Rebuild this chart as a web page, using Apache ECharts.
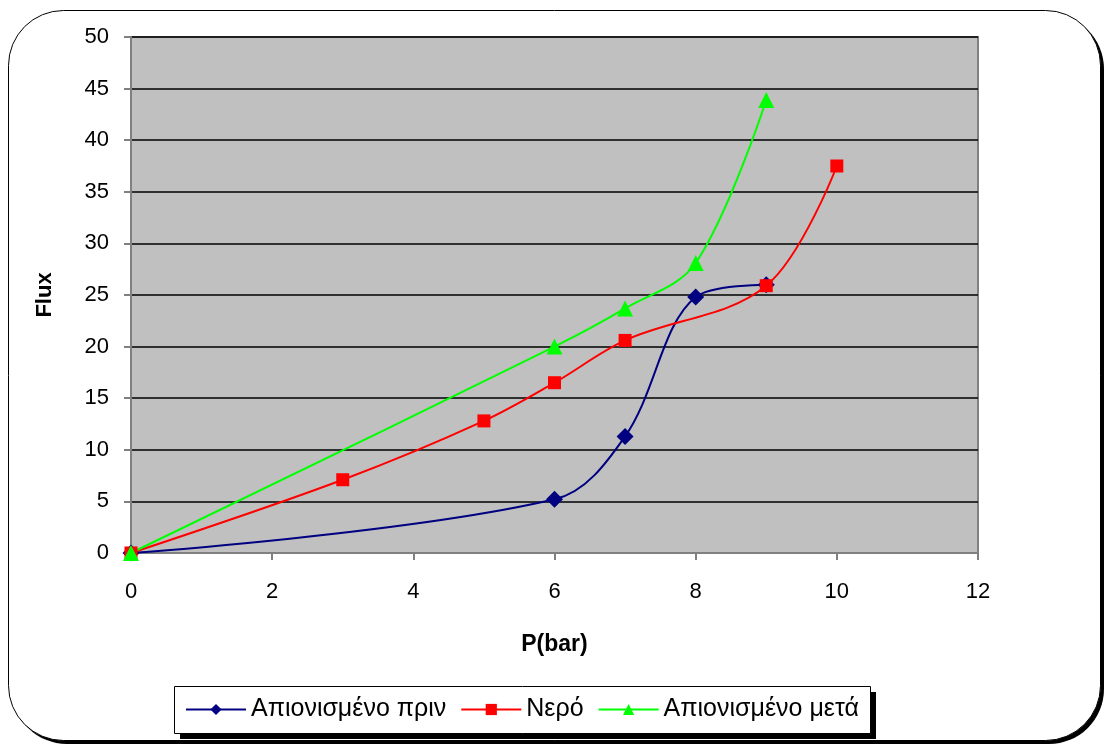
<!DOCTYPE html>
<html>
<head>
<meta charset="utf-8">
<script src="https://cdn.jsdelivr.net/npm/echarts@6/dist/echarts.min.js"></script>
<style>
html,body{margin:0;padding:0;background:#fff;}
#content{width:1106px;height:745px;}
</style>
</head>
<body>
<div id="content"></div>
<script>
// data
var pressure1 = [0, 6, 7, 8, 9];
var fluxBefore = [0, 5.2, 11.3, 24.8, 26.0];
var pressure2 = [0, 3, 5, 6, 7, 9, 10];
var fluxWater = [0, 7.1, 12.8, 16.5, 20.6, 25.9, 37.5];
var pressure3 = [0, 6, 7, 8, 9];
var fluxAfter = [0, 20.0, 23.7, 28.1, 43.9];
var seriesNames = ['Απιονισμένο πριν', 'Νερό', 'Απιονισμένο μετά'];

function pairs(xs, ys) {
    return xs.map(function (x, i) { return [x, ys[i]]; });
}

var myChart = echarts.init(document.getElementById('content'));

var option = {
    animation: false,
    textStyle: { fontFamily: 'Arial, "Liberation Sans", sans-serif' },
    graphic: [
        // outer frame: black shadow then white rounded box
        {
            type: 'rect', z: -10,
            shape: { x: 12, y: 14, width: 1092, height: 730, r: 55 },
            style: { fill: '#000' }
        },
        {
            type: 'rect', z: -9,
            shape: { x: 8.5, y: 10.5, width: 1092, height: 730, r: 55 },
            style: { fill: '#fff', stroke: '#000', lineWidth: 1 }
        },
        // legend box
        {
            type: 'rect', z: -8,
            shape: { x: 180, y: 692, width: 696, height: 47 },
            style: { fill: '#000' }
        },
        {
            type: 'rect', z: -7,
            shape: { x: 174.5, y: 686.5, width: 696, height: 47 },
            style: { fill: '#fff', stroke: '#000', lineWidth: 1 }
        }
    ],
    grid: {
        left: 131,
        right: 128,
        top: 37,
        bottom: 192,
        show: true,
        backgroundColor: '#c0c0c0',
        borderColor: '#808080',
        borderWidth: 2
    },
    legend: {
        top: 697,
        left: 185,
        data: seriesNames,
        padding: 0,
        itemGap: 14,
        itemWidth: 60,
        itemHeight: 14,
        textStyle: { fontSize: 25, color: '#000' }
    },
    xAxis: {
        type: 'value',
        min: 0,
        max: 12,
        interval: 2,
        name: 'P(bar)',
        nameLocation: 'middle',
        nameGap: 80,
        nameTextStyle: { fontSize: 23, fontWeight: 'bold', color: '#000' },
        axisLine: { show: true, lineStyle: { color: '#808080', width: 2 } },
        axisTick: { show: true, length: 7, lineStyle: { color: '#808080', width: 2 } },
        axisLabel: { fontSize: 22, color: '#000', margin: 28 },
        splitLine: { show: false }
    },
    yAxis: {
        type: 'value',
        min: 0,
        max: 50,
        interval: 5,
        name: 'Flux',
        nameLocation: 'middle',
        nameGap: 75,
        nameRotate: 90,
        nameTextStyle: { fontSize: 22, fontWeight: 'bold', color: '#000' },
        axisLine: { show: true, lineStyle: { color: '#808080', width: 2 } },
        axisTick: { show: true, length: 7, lineStyle: { color: '#808080', width: 2 } },
        axisLabel: { fontSize: 22, color: '#000', margin: 22 },
        splitLine: { show: true, lineStyle: { color: '#000', width: 1.5 } }
    },
    series: [
        {
            name: seriesNames[0],
            type: 'line',
            smooth: 0.35,
            data: pairs(pressure1, fluxBefore),
            symbol: 'diamond',
            symbolSize: 17,
            color: '#000080',
            lineStyle: { color: '#000080', width: 2 },
            itemStyle: { color: '#000080' }
        },
        {
            name: seriesNames[1],
            type: 'line',
            smooth: 0.35,
            data: pairs(pressure2, fluxWater),
            symbol: 'rect',
            symbolSize: 13,
            color: '#ff0000',
            lineStyle: { color: '#ff0000', width: 2 },
            itemStyle: { color: '#ff0000' }
        },
        {
            name: seriesNames[2],
            type: 'line',
            smooth: 0.35,
            data: pairs(pressure3, fluxAfter),
            symbol: 'triangle',
            symbolSize: 16,
            color: '#00ff00',
            lineStyle: { color: '#00ff00', width: 2 },
            itemStyle: { color: '#00ff00' }
        }
    ]
};

myChart.setOption(option);
</script>
</body>
</html>
